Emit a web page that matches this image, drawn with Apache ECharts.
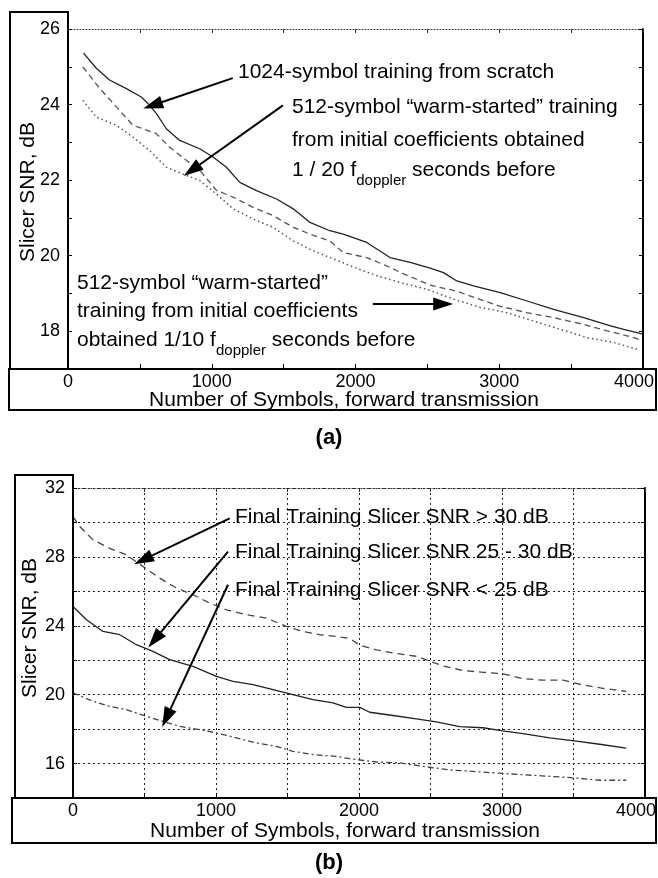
<!DOCTYPE html>
<html><head><meta charset="utf-8">
<script src="https://cdn.jsdelivr.net/npm/echarts@6.0.0/dist/echarts.min.js"></script>
<style>html,body{margin:0;padding:0;background:#fff}#c{width:658px;height:878px}</style>
</head><body><div id="c"></div>
<script>
// ---------- Data: panel (a) ----------
const scratchX = [108,197,289,406,510,556,615,684,777,916,1009,1102,1195,1311,1451,1567,1683,1822,1915,2078,2240,2380,2519,2612,2705,2821,3007,3193,3378,3587,3774,3866,4000];
const scratchY = [25.36,24.96,24.65,24.42,24.20,24.03,23.76,23.36,23.05,22.83,22.61,22.34,21.94,21.72,21.50,21.24,20.88,20.66,20.57,20.35,19.95,19.82,19.67,19.55,19.33,19.20,19.02,18.80,18.58,18.36,18.14,18.05,17.92];
const warm20X = [103,220,336,452,521,615,707,824,916,1033,1148,1288,1427,1567,1683,1822,1915,2078,2217,2334,2519,2705,2821,3007,3193,3378,3587,3750,3936,3990];
const warm20Y = [25.0,24.43,23.94,23.45,23.36,23.23,22.87,22.52,22.26,21.73,21.55,21.28,21.06,20.75,20.57,20.39,20.08,19.95,19.73,19.52,19.22,19.06,18.90,18.66,18.49,18.36,18.18,18.01,17.83,17.76];
const warm10X = [103,197,336,452,568,684,800,916,1033,1148,1288,1427,1567,1683,1822,1985,2148,2310,2496,2682,2868,3054,3239,3425,3611,3797,3960];
const warm10Y = [24.11,23.67,23.45,23.14,22.78,22.34,22.16,21.99,21.63,21.24,20.97,20.75,20.39,20.17,19.95,19.70,19.47,19.29,19.11,18.85,18.63,18.49,18.27,18.05,17.83,17.70,17.52];

// ---------- Data: panel (b) ----------
const highX = [0,47,140,257,373,490,606,723,839,956,1073,1213,1352,1492,1608,1725,1842,1935,2005,2122,2238,2401,2588,2728,2868,3007,3147,3287,3427,3566,3706,3869];
const highY = [30.34,29.76,28.99,28.50,28.12,27.44,26.77,26.19,25.80,25.32,24.93,24.64,24.45,23.96,23.67,23.48,23.38,23.26,22.88,22.60,22.42,22.23,21.67,21.40,21.30,21.21,20.93,20.84,20.84,20.56,20.37,20.19];
const midX = [0,94,210,327,443,559,676,839,1003,1119,1259,1399,1538,1678,1818,1911,2005,2075,2238,2401,2541,2704,2867,3007,3170,3333,3520,3683,3869];
const midY = [25.12,24.35,23.67,23.48,22.90,22.51,22.03,21.64,21.06,20.77,20.58,20.29,20.0,19.71,19.52,19.26,19.26,18.98,18.79,18.60,18.42,18.14,18.08,17.90,17.71,17.49,17.30,17.12,16.89];
const lowX = [0,140,257,373,513,629,746,886,1003,1143,1282,1422,1538,1678,1842,1935,2122,2284,2471,2634,2820,2983,3147,3333,3520,3683,3869];
const lowY = [20.10,19.61,19.32,19.13,18.74,18.45,18.16,17.97,17.78,17.49,17.20,17.00,16.71,16.52,16.42,16.28,16.09,16.04,15.81,15.63,15.53,15.44,15.35,15.26,15.16,15.03,15.03];

// ---------- Axis ticks ----------
const xTickLabels = [0,1000,2000,3000,4000];
const yTickLabelsA = [18,20,22,24,26];
const yTickLabelsB = [16,20,24,28,32];

// ---------- Annotation arrows (data coords: tail -> head) ----------
const arrowsA = [[[1146,24.70],[589,23.98]], [[1495,23.98],[861,22.26]], [[2120,18.72],[2610,18.72]]];
const arrowsB = [[[1096,30.24],[490,27.83]], [[1084,28.31],[571,23.19]], [[1084,26.38],[653,18.65]]];

const FONT = '"Liberation Sans", Arial, Helvetica, sans-serif';
const zip = (xs, ys) => xs.map((x, i) => [x, ys[i]]);

function xAxes(grid, split) {
  return [
    { gridIndex: grid, type: 'value', min: 0, max: 4000, interval: 500, position: 'bottom',
      axisLine: { show: true, onZero: false, lineStyle: { color: '#000', width: 2 } },
      axisTick: { show: true, inside: true, length: 5, lineStyle: { color: '#000', width: 1 } },
      axisLabel: { color: '#000', fontSize: 18, fontFamily: FONT, margin: 4,
        formatter: v => !xTickLabels.includes(v) ? '' : (v === 4000 ? '{m|' + v + '}' : String(v)),
        rich: { m: { fontSize: 18, fontFamily: FONT, color: '#000', padding: [0, 18, 0, 0] } } },
      splitLine: split ? { show: true, lineStyle: { color: '#222', width: 1, type: [2, 3] } } : { show: false } },
    { gridIndex: grid, type: 'value', min: 0, max: 4000, interval: 500, position: 'top',
      axisLine: { show: true, onZero: false, lineStyle: { color: '#333', width: 1, type: [1, 2] } },
      axisTick: { show: true, inside: true, length: 4, lineStyle: { color: '#333' } },
      axisLabel: { show: false }, splitLine: { show: false } }
  ];
}
function yAxes(grid, min, max, interval, labels, split) {
  return [
    { gridIndex: grid, type: 'value', min, max, interval, position: 'left',
      axisLine: { show: true, onZero: false, lineStyle: { color: '#000', width: 2 } },
      axisTick: { show: true, inside: true, length: 4, lineStyle: { color: '#000' } },
      axisLabel: { color: '#000', fontSize: 18, fontFamily: FONT, margin: 8,
        formatter: v => labels.includes(v) ? String(v) : '' },
      splitLine: split ? { show: true, lineStyle: { color: '#222', width: 1, type: [2, 3] } } : { show: false } },
    { gridIndex: grid, type: 'value', min, max, interval, position: 'right',
      axisLine: { show: true, onZero: false, lineStyle: { color: '#000', width: 2 } },
      axisTick: { show: true, inside: true, length: 4, lineStyle: { color: '#000' } },
      axisLabel: { show: false }, splitLine: { show: false } }
  ];
}
function arrowML(list) {
  return { silent: true, animation: false, symbol: ['none', 'triangle'], symbolSize: [13, 20],
    lineStyle: { color: '#000', width: 2, type: 'solid' }, label: { show: false },
    emphasis: { disabled: true },
    data: list.map(a => [{ coord: a[0] }, { coord: a[1] }]) };
}
function line(name, xi, yi, data, color, type, width, ml) {
  const s = { name, type: 'line', xAxisIndex: xi, yAxisIndex: yi, data, showSymbol: false,
    lineStyle: { color, type, width }, animation: false, silent: true };
  if (ml) s.markLine = ml;
  return s;
}
function text(x, y, str, size, opt) {
  return Object.assign({ type: 'text', x, y, z: 10, silent: true,
    style: { text: str, fontSize: size, fontFamily: FONT, fill: '#000', align: 'left', verticalAlign: 'middle' } }, opt || {});
}
function ctext(x, y, str, size, extra) {
  return { type: 'text', x, y, z: 10, silent: true, rotation: (extra && extra.rotation) || 0,
    style: Object.assign({ text: str, fontSize: size, fontFamily: FONT, fill: '#000', align: 'center', verticalAlign: 'middle' }, (extra && extra.style) || {}) };
}
function richText(x, y, pre, sub, post) {
  return { type: 'text', x, y, z: 10, silent: true,
    style: { text: '{a|' + pre + '}{s|' + sub + '}{a|' + post + '}', fill: '#000', align: 'left', verticalAlign: 'middle',
      rich: { a: { fontSize: 21, fontFamily: FONT, fill: '#000', lineHeight: 24, verticalAlign: 'top' },
              s: { fontSize: 15, fontFamily: FONT, fill: '#000', lineHeight: 15, padding: [13, 0, 0, 0], verticalAlign: 'top' } } } };
}
function rect(x, y, w, h) {
  return { type: 'rect', z: 5, silent: true, shape: { x, y, width: w, height: h },
    style: { fill: 'none', stroke: '#000', lineWidth: 2 } };
}

const chart = echarts.init(document.getElementById('c'), null, { renderer: 'canvas' });
chart.setOption({
  animation: false,
  backgroundColor: '#fff',
  grid: [
    { left: 68, top: 29, width: 575, height: 340, containLabel: false, outerBoundsMode: 'none' },
    { left: 73, top: 488, width: 572, height: 310, containLabel: false, outerBoundsMode: 'none' }
  ],
  xAxis: [...xAxes(0, false), ...xAxes(1, true)],
  yAxis: [...yAxes(0, 17, 26, 1, yTickLabelsA, false), ...yAxes(1, 14, 32, 2, yTickLabelsB, true)],
  series: [
    line('1024-symbol training from scratch', 0, 0, zip(scratchX, scratchY), '#222', 'solid', 1.3, arrowML(arrowsA)),
    line('512-symbol warm-started 1/20', 0, 0, zip(warm20X, warm20Y), '#555', [6, 4], 1.3),
    line('512-symbol warm-started 1/10', 0, 0, zip(warm10X, warm10Y), '#555', [1.5, 3], 1.5),
    line('Final Training Slicer SNR > 30 dB', 2, 2, zip(highX, highY), '#444', [7, 5], 1.3, arrowML(arrowsB)),
    line('Final Training Slicer SNR 25 - 30 dB', 2, 2, zip(midX, midY), '#222', 'solid', 1.3),
    line('Final Training Slicer SNR < 25 dB', 2, 2, zip(lowX, lowY), '#444', [6, 3, 2, 3], 1.3)
  ],
  graphic: [
    // panel (a) frame boxes
    rect(10, 12, 58, 357),
    rect(9, 369, 647, 41),
    ctext(28, 192, 'Slicer SNR, dB', 21, { rotation: Math.PI / 2 }),
    ctext(344, 400, 'Number of Symbols, forward transmission', 21),
    text(238, 72, '1024-symbol training from scratch', 21),
    text(292, 107, '512-symbol \u201cwarm-started\u201d training', 21),
    text(292, 140, 'from initial coefficients obtained', 21),
    richText(292, 172, '1 / 20 f', 'doppler', ' seconds before'),
    text(77, 283, '512-symbol \u201cwarm-started\u201d', 21),
    text(77, 311, 'training from initial coefficients', 21),
    richText(77, 342, 'obtained 1/10 f', 'doppler', ' seconds before'),
    ctext(329, 438, '(a)', 22, { style: { fontWeight: 'bold' } }),
    // panel (b) frame boxes
    rect(15, 475, 58, 323),
    rect(12, 798, 644, 45),
    ctext(30, 628, 'Slicer SNR, dB', 21, { rotation: Math.PI / 2 }),
    ctext(345, 831, 'Number of Symbols, forward transmission', 21),
    text(235, 517, 'Final Training Slicer SNR > 30 dB', 21),
    text(235, 552, 'Final Training Slicer SNR 25 - 30 dB', 21),
    text(235, 590, 'Final Training Slicer SNR < 25 dB', 21),
    ctext(329, 863, '(b)', 22, { style: { fontWeight: 'bold' } })
  ]
});
</script></body></html>
